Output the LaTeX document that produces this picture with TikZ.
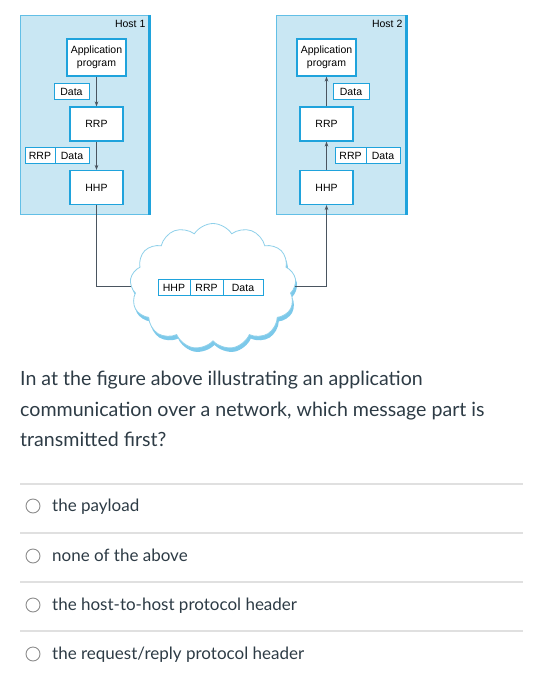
\documentclass[tikz,border=0pt]{standalone}
\usepackage{fontspec}
\setmainfont{Lato}
\newfontfamily\diag{Liberation Sans}
\usetikzlibrary{shapes.symbols,shadows,arrows.meta}
\definecolor{hostfill}{HTML}{C9E7F3}
\definecolor{bluee}{HTML}{1FA3DC}
\definecolor{cloudline}{HTML}{8ED0EA}
\definecolor{cloudshadow}{HTML}{7CC9EA}
\definecolor{txt}{HTML}{2D3B45}
\definecolor{sepc}{HTML}{E0E0E0}
\definecolor{conn}{HTML}{4A5560}
\begin{document}
\begin{tikzpicture}[x=1pt,y=-1pt,
  host/.style={draw=bluee!70, line width=0.6pt, fill=hostfill, anchor=north west, inner sep=0pt},
  layerbox/.style={draw=bluee, line width=1.1pt, fill=white, minimum width=53pt, minimum height=34pt, inner sep=0pt, font=\diag\fontsize{10.5}{13.5}\selectfont, align=center, text=black},
  field/.style={draw=bluee, line width=1pt, fill=white, minimum height=16pt, inner sep=0pt, font=\diag\fontsize{10.5}{12}\selectfont, text=black},
  conn/.style={draw=conn, line width=0.7pt},
  arr/.style={conn, -{Stealth[length=5pt,width=3.6pt]}},
  lbl/.style={font=\diag\fontsize{10.5}{12}\selectfont, text=black, inner sep=0pt},
  qtext/.style={anchor=base west, font=\fontsize{19.6}{23}\selectfont, text=txt, inner sep=0pt},
  ans/.style={anchor=base west, font=\fontsize{17}{20}\selectfont, text=txt, inner sep=0pt},
  radio/.style={circle, draw=gray!90, line width=0.9pt, minimum size=14pt, inner sep=0pt},
  sep/.style={draw=sepc, line width=1.3pt}
]
\useasboundingbox (0,0) rectangle (533,692);
% Hosts
\node[host, minimum width=130pt, minimum height=199pt] (host1) at (20,15) {};
\draw[bluee, line width=2.5pt] ([xshift=-1.2pt]host1.north east) -- ([xshift=-1.2pt]host1.south east);
\node[lbl, anchor=north east] (h1lab) at ([xshift=-5pt,yshift=-5pt]host1.north east) {Host 1};
\node[host, minimum width=131pt, minimum height=199pt] (host2) at (276,15) {};
\draw[bluee, line width=2.5pt] ([xshift=-1.2pt]host2.north east) -- ([xshift=-1.2pt]host2.south east);
\node[lbl, anchor=north east] (h2lab) at ([xshift=-5pt,yshift=-5pt]host2.north east) {Host 2};

% Host 1 stack
\node[layerbox, minimum width=59pt, minimum height=37pt] (app1) at (96.5,57.5) {Application\\program};
\node[layerbox] (rrp1) at (96.5,124) {RRP};
\node[layerbox] (hhp1) at (96.5,187.5) {HHP};
\node[field, minimum width=35pt] (d1) at (71.5,92) {Data};
\node[field, minimum width=30pt] (r1f) at (40,156) {RRP};
\node[field, minimum width=34pt] (r1d) at (72,156) {Data};
\draw[arr] (app1) -- (rrp1);
\draw[arr] (rrp1) -- (hhp1);

% Host 2 stack
\node[layerbox, minimum width=59pt, minimum height=37pt] (app2) at (326.5,57.5) {Application\\program};
\node[layerbox] (rrp2) at (326.5,124) {RRP};
\node[layerbox] (hhp2) at (326.5,187.5) {HHP};
\node[field, minimum width=36pt] (d2) at (351,92) {Data};
\node[field, minimum width=31pt] (r2f) at (350.5,156) {RRP};
\node[field, minimum width=34pt] (r2d) at (383,156) {Data};
\draw[arr] (rrp2) -- (app2);
\draw[arr] (hhp2) -- (rrp2);

% Cloud
\node[cloud, cloud puffs=13, cloud puff arc=115, aspect=1.3, draw=cloudline, line width=0.8pt, fill=white, minimum width=166pt, minimum height=126pt, inner sep=0pt,
  drop shadow={shadow xshift=1.5pt, shadow yshift=-4pt, fill=cloudshadow, opacity=1}] (cloud) at (213,286.5) {};
\node[field, minimum width=32pt] (pk1) at (174,287.5) {HHP};
\node[field, minimum width=33pt] (pk2) at (206.5,287.5) {RRP};
\node[field, minimum width=40pt] (pk3) at (243,287.5) {Data};

\draw[conn] (hhp1.south) |- (cloud.west);
\draw[arr] (cloud.east) -| (hhp2.south);

% Question
\node[qtext] (q1) at (20,385) {In at the figure above illustrating an application};
\node[qtext] (q2) at (20,416) {communication over a network, which message part is};
\node[qtext] (q3) at (20,446) {transmitted first?};

% Answers
\draw[sep] (20,484) -- (523,484);
\node[radio] (o1) at (33,506) {};
\node[ans] (a1) at (52,511.5) {the payload};
\draw[sep] (20,533) -- (523,533);
\node[radio] (o2) at (33,556) {};
\node[ans] (a2) at (52,561.5) {none of the above};
\draw[sep] (20,582) -- (523,582);
\node[radio] (o3) at (33,605) {};
\node[ans] (a3) at (52,610.5) {the host-to-host protocol header};
\draw[sep] (20,631) -- (523,631);
\node[radio] (o4) at (33,654) {};
\node[ans] (a4) at (52,659.5) {the request/reply protocol header};
\end{tikzpicture}
\end{document}
